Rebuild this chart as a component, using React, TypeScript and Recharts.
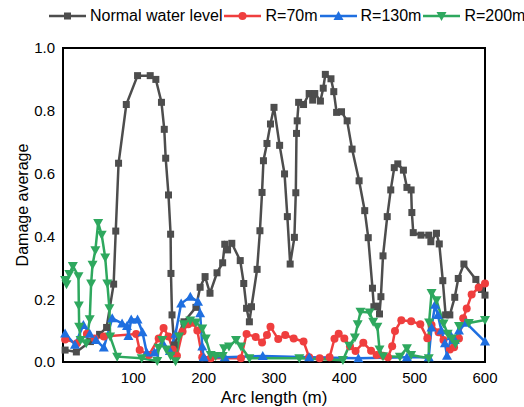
import { LineChart, Line, XAxis, YAxis, ReferenceArea, Label } from 'recharts'

// arc length (m) and damage average
const normalX = [3, 19, 39, 52, 62, 72, 75, 79, 90, 106, 124, 132, 140, 144, 146, 150, 153, 153.5, 155, 158, 172, 189, 195, 202, 209, 219, 227, 230, 234, 240, 252, 257, 261, 265, 268, 276, 280, 283, 285, 290, 295, 300, 308, 315, 319, 323, 329, 331, 332, 333, 335, 342, 350, 355, 358, 366, 370, 373, 381, 385, 389, 396, 404, 411, 421, 429, 434, 440, 442, 446, 450, 452, 455, 461, 466, 471, 476, 484, 489, 495, 496, 498, 509, 520, 523, 531, 535, 540, 544, 550, 557, 562, 570, 587, 595, 600]
const normalY = [0.038, 0.032, 0.065, 0.088, 0.11, 0.248, 0.417, 0.633, 0.82, 0.912, 0.912, 0.9, 0.827, 0.741, 0.649, 0.532, 0.407, 0.282, 0.15, 0.054, 0.128, 0.174, 0.238, 0.272, 0.219, 0.284, 0.316, 0.375, 0.357, 0.378, 0.323, 0.25, 0.171, 0.128, 0.176, 0.295, 0.418, 0.54, 0.641, 0.696, 0.758, 0.811, 0.69, 0.599, 0.463, 0.312, 0.397, 0.539, 0.728, 0.768, 0.827, 0.82, 0.855, 0.834, 0.855, 0.831, 0.872, 0.916, 0.902, 0.861, 0.795, 0.797, 0.768, 0.678, 0.577, 0.482, 0.396, 0.235, 0.176, 0.178, 0.153, 0.208, 0.338, 0.463, 0.548, 0.619, 0.631, 0.611, 0.556, 0.548, 0.476, 0.412, 0.404, 0.404, 0.383, 0.41, 0.376, 0.259, 0.15, 0.15, 0.206, 0.266, 0.312, 0.263, 0.231, 0.213]

const r70X = [3, 20, 34, 45, 58, 104, 109, 122, 136, 143, 150, 156, 162, 170, 178, 185, 191, 198, 210, 253, 261, 274, 283, 290, 295, 306, 316, 328, 342, 350, 365, 379, 386, 392, 400, 408, 416, 427, 438, 446, 455, 462, 468, 472, 481, 495, 508, 518, 524, 534, 541, 550, 556, 563, 569, 574, 581, 591, 600]
const r70Y = [0.072, 0.06, 0.09, 0.075, 0.081, 0.089, 0.038, 0.022, 0.075, 0.108, 0.081, 0.04, 0.02, 0.097, 0.12, 0.125, 0.1, 0.015, 0.012, 0.012, 0.089, 0.08, 0.062, 0.086, 0.112, 0.073, 0.086, 0.075, 0.065, 0.015, 0.012, 0.015, 0.074, 0.09, 0.075, 0.05, 0.035, 0.061, 0.036, 0.022, 0.02, 0.015, 0.05, 0.099, 0.133, 0.13, 0.12, 0.076, 0.118, 0.095, 0.07, 0.04, 0.047, 0.075, 0.139, 0.17, 0.215, 0.237, 0.25]

const r130X = [3, 17, 29, 38, 47, 58, 70, 84, 91, 93, 97, 106, 113, 119, 130, 142, 152, 160, 168, 181, 192, 195, 198, 200, 230, 284, 350, 420, 489, 520, 524, 529, 533, 538, 543, 546, 552, 557, 563, 573, 600]
const r130Y = [0.091, 0.055, 0.118, 0.09, 0.07, 0.046, 0.139, 0.123, 0.115, 0.083, 0.135, 0.135, 0.095, 0.03, 0.03, 0.06, 0.035, 0.09, 0.186, 0.208, 0.192, 0.155, 0.049, 0.015, 0.015, 0.019, 0.015, 0.012, 0.015, 0.015, 0.11, 0.182, 0.15, 0.1, 0.06, 0.02, 0.082, 0.07, 0.1, 0.125, 0.065]

const r200X = [3, 5, 9, 14, 22, 22.5, 23, 25, 33, 38, 40, 42, 46, 50, 55, 60, 63, 66, 67, 77, 112, 134, 136, 141, 147, 153, 160, 165, 172, 181, 189, 198, 203, 210, 217, 227, 229, 236, 246, 253, 265, 336, 398, 407, 415, 419, 423, 436, 441, 447, 450, 455, 479, 489, 495, 520, 520.5, 524, 531, 541, 547, 553, 558, 563, 577, 600]
const r200Y = [0.261, 0.248, 0.28, 0.306, 0.273, 0.18, 0.112, 0.07, 0.06, 0.136, 0.25, 0.31, 0.356, 0.443, 0.405, 0.333, 0.25, 0.171, 0.081, 0.017, 0.012, 0.003, 0.045, 0.07, 0.04, 0.02, 0.002, 0.081, 0.12, 0.132, 0.126, 0.107, 0.075, 0.022, 0.019, 0.019, 0.044, 0.049, 0.07, 0.049, 0.012, 0.012, 0.006, 0.052, 0.078, 0.12, 0.16, 0.158, 0.128, 0.112, 0.04, 0.018, 0.017, 0.044, 0.022, 0.012, 0.126, 0.22, 0.197, 0.123, 0.09, 0.075, 0.058, 0.115, 0.124, 0.134]

const xTicks = [100, 200, 300, 400, 500, 600]
const yTicks = [0, 0.2, 0.4, 0.6, 0.8, 1.0]

const font = '"Liberation Sans", Arial, sans-serif'

const zip = (xs: number[], ys: number[]) => xs.map((x, i) => ({ x, y: ys[i] }))

const series = [
  { name: 'Normal water level', color: '#4d4d4d', shape: 'square', data: zip(normalX, normalY) },
  { name: 'R=70m', color: '#ef3e3e', shape: 'circle', data: zip(r70X, r70Y) },
  { name: 'R=130m', color: '#1f6fe0', shape: 'up', data: zip(r130X, r130Y) },
  { name: 'R=200m', color: '#2ea85e', shape: 'down', data: zip(r200X, r200Y) },
]

function Marker({ cx, cy, shape, color }: { cx: number; cy: number; shape: string; color: string }) {
  if (cx == null || cy == null) return null
  if (shape === 'square') return <rect x={cx - 3.5} y={cy - 3.5} width={7} height={7} fill={color} />
  if (shape === 'circle') return <circle cx={cx} cy={cy} r={4} fill={color} />
  if (shape === 'up')
    return <polygon points={`${cx},${cy - 5} ${cx - 5},${cy + 4} ${cx + 5},${cy + 4}`} fill={color} />
  return <polygon points={`${cx},${cy + 5} ${cx - 5},${cy - 4} ${cx + 5},${cy - 4}`} fill={color} />
}

function LegendRow() {
  return (
    <div
      style={{
        position: 'absolute',
        top: 6,
        left: 49,
        display: 'flex',
        alignItems: 'center',
        fontFamily: font,
        fontSize: 16,
        color: '#000',
        whiteSpace: 'nowrap',
      }}
    >
      {series.map((s) => (
        <div key={s.name} style={{ display: 'flex', alignItems: 'center', marginRight: 2 }}>
          <svg width={37} height={20} style={{ marginRight: 4 }}>
            <line x1={0} y1={10} x2={37} y2={10} stroke={s.color} strokeWidth={2.5} />
            <Marker cx={18.5} cy={10} shape={s.shape} color={s.color} />
          </svg>
          <span>{s.name}</span>
        </div>
      ))}
    </div>
  )
}

export default function App() {
  return (
    <div style={{ position: 'absolute', left: 0, top: 0, width: 524, height: 407, background: '#fff' }}>
      <LineChart width={524} height={407} margin={{ top: 48, right: 39, bottom: 0, left: 0 }}>
        <XAxis
          dataKey="x"
          type="number"
          domain={[0, 600]}
          ticks={xTicks}
          height={45}
          tickLine={false}
          axisLine={false}
          tickMargin={4}
          tick={{ fontSize: 15, fill: '#000', fontFamily: font }}
        >
          <Label
            value="Arc length (m)"
            position="insideBottom"
            offset={4}
            style={{ fontSize: 17, fill: '#000', fontFamily: font }}
          />
        </XAxis>
        <YAxis
          dataKey="y"
          type="number"
          domain={[0, 1]}
          ticks={yTicks}
          width={63}
          tickLine={false}
          axisLine={false}
          tickFormatter={(v: number) => v.toFixed(1)}
          tick={{ fontSize: 15, fill: '#000', fontFamily: font }}
        >
          <Label
            value="Damage average"
            angle={-90}
            position="insideLeft"
            offset={22}
            style={{ fontSize: 16, fill: '#000', fontFamily: font, textAnchor: 'middle' }}
          />
        </YAxis>
        {series.map((s) => (
          <Line
            key={s.name}
            data={s.data}
            dataKey="y"
            name={s.name}
            type="linear"
            stroke={s.color}
            strokeWidth={2.5}
            isAnimationActive={false}
            dot={(p: any) => <Marker key={`${s.name}-${p.index}`} cx={p.cx} cy={p.cy} shape={s.shape} color={s.color} />}
            activeDot={false}
          />
        ))}
        <ReferenceArea x1={0} x2={600} y1={0} y2={1} fill="none" stroke="#000" strokeWidth={2} />
      </LineChart>
      <LegendRow />
    </div>
  )
}
